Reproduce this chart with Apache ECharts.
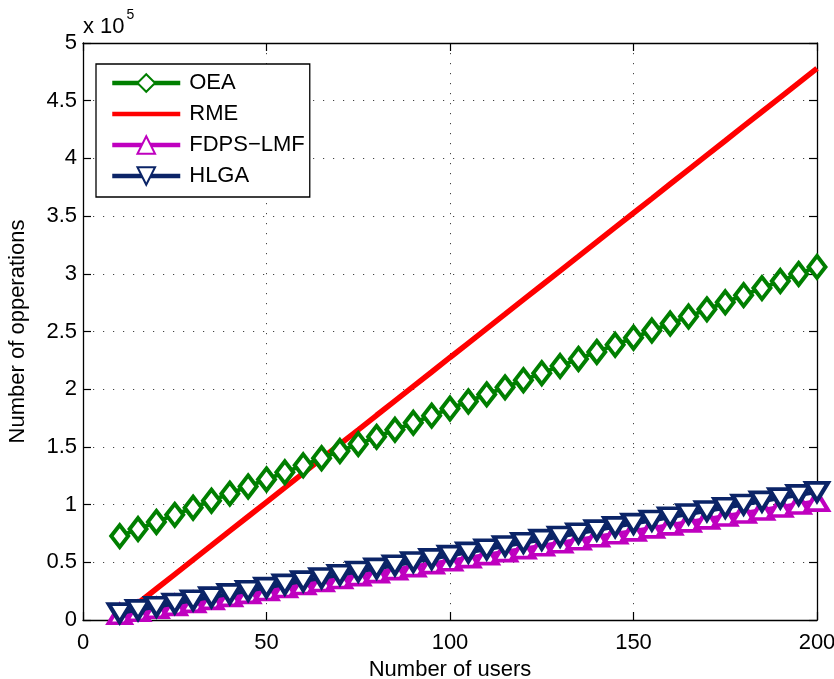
<!DOCTYPE html>
<html>
<head>
<meta charset="utf-8">
<script src="https://cdn.jsdelivr.net/npm/echarts@6/dist/echarts.min.js"></script>
<style>
  html, body { margin: 0; padding: 0; background: #fff; }
  #chart { width: 834px; height: 679px; }
</style>
</head>
<body>
<div id="chart"></div>
<script>
// number of users
var users = [10, 15, 20, 25, 30, 35, 40, 45, 50, 55, 60, 65, 70, 75, 80, 85, 90, 95, 100,
  105, 110, 115, 120, 125, 130, 135, 140, 145, 150, 155, 160, 165, 170, 175, 180, 185, 190, 195, 200];

var oea = [72700, 78800, 85000, 91100, 97300, 103400, 109500, 115700, 121800, 128000,
  134100, 140200, 146400, 152500, 158700, 164800, 170900, 177100, 183200, 189400,
  195500, 201600, 207800, 213900, 220100, 226200, 232300, 238500, 244600, 250800,
  256900, 263000, 269200, 275300, 281500, 287600, 293700, 299900, 306000];

var rme = [2000, 14500, 27100, 39600, 52100, 64600, 77200, 89700, 102200, 114700,
  127300, 139800, 152300, 164800, 177400, 189900, 202400, 214900, 227500, 240000,
  252500, 265000, 277600, 290100, 302600, 315100, 327700, 340200, 352700, 365200,
  377800, 390300, 402800, 415300, 427900, 440400, 452900, 465400, 478000];

var fdps = [5000, 7600, 10200, 12700, 15300, 17900, 20500, 23100, 25600, 28200,
  30800, 33400, 36000, 38500, 41100, 43700, 46300, 48900, 51400, 54000,
  56600, 59200, 61800, 64300, 66900, 69500, 72100, 74700, 77200, 79800,
  82400, 85000, 87600, 90100, 92700, 95300, 97900, 100500, 103000];

var hlga = [6000, 8800, 11500, 14300, 17100, 19800, 22600, 25400, 28100, 30900,
  33700, 36400, 39200, 42000, 44700, 47500, 50300, 53000, 55800, 58600,
  61300, 64100, 66900, 69600, 72400, 75200, 77900, 80700, 83500, 86200,
  89000, 91800, 94500, 97300, 100100, 102800, 105600, 108400, 111000];

var font = '"Liberation Sans", Arial, Helvetica, sans-serif';

function pairs(ys) {
  return users.map(function (x, i) { return [x, ys[i]]; });
}

var chart = echarts.init(document.getElementById('chart'));

var gridLine = { show: true, lineStyle: { color: '#444', width: 1, type: [1.2, 8.8] } };
var frame = { show: true, onZero: false, lineStyle: { color: '#000', width: 1.3 } };
var ticks = { show: true, inside: true, length: 8, lineStyle: { color: '#000', width: 1.2 } };

chart.setOption({
  backgroundColor: '#fff',
  animation: false,
  textStyle: { fontFamily: font },
  grid: { left: 83, right: 17, top: 43, bottom: 59, containLabel: false, outerBoundsMode: 'none' },
  legend: {
    orient: 'vertical',
    left: 96,
    top: 64,
    padding: [8, 5, 10, 14],
    itemWidth: 68,
    itemHeight: 22,
    itemGap: 9,
    backgroundColor: '#fff',
    borderColor: '#000',
    borderWidth: 1.3,
    borderRadius: 0,
    lineStyle: { width: 4.5 },
    textStyle: { fontFamily: font, fontSize: 22, lineHeight: 22, color: '#000', padding: [0, 0, 0, 4] },
    data: [
      { name: 'OEA' },
      { name: 'RME', itemStyle: { opacity: 0 } },
      { name: 'FDPS\u2212LMF' },
      { name: 'HLGA' }
    ]
  },
  graphic: [{
    type: 'text',
    left: 83,
    top: 8,
    style: {
      text: '{a|x 10}{b|5}',
      rich: {
        a: { fontFamily: font, fontSize: 22, fill: '#000', verticalAlign: 'bottom', lineHeight: 30 },
        b: { fontFamily: font, fontSize: 14, fill: '#000', verticalAlign: 'top', lineHeight: 30, padding: [0, 0, 18, 2] }
      }
    }
  }],
  xAxis: [{
    type: 'value',
    min: 0,
    max: 200,
    interval: 50,
    name: 'Number of users',
    nameLocation: 'middle',
    nameGap: 30,
    nameTextStyle: { fontFamily: font, fontSize: 22, color: '#000' },
    axisLine: frame,
    axisTick: ticks,
    axisLabel: { fontFamily: font, fontSize: 22, color: '#000', margin: 12 },
    splitLine: gridLine
  }, {
    type: 'value',
    position: 'top',
    min: 0,
    max: 200,
    interval: 50,
    axisLine: frame,
    axisTick: ticks,
    axisLabel: { show: false },
    splitLine: { show: false }
  }],
  yAxis: [{
    type: 'value',
    min: 0,
    max: 500000,
    interval: 50000,
    name: 'Number of opperations',
    nameLocation: 'middle',
    nameGap: 54,
    nameTextStyle: { fontFamily: font, fontSize: 22, color: '#000' },
    axisLine: frame,
    axisTick: ticks,
    axisLabel: {
      fontFamily: font, fontSize: 22, color: '#000', margin: 6,
      formatter: function (v) { return String(+(v / 100000).toFixed(1)); }
    },
    splitLine: gridLine
  }, {
    type: 'value',
    position: 'right',
    min: 0,
    max: 500000,
    interval: 50000,
    axisLine: frame,
    axisTick: ticks,
    axisLabel: { show: false },
    splitLine: { show: false }
  }],
  series: [{
    name: 'OEA',
    type: 'line',
    data: pairs(oea),
    symbol: 'diamond',
    symbolSize: [17, 22],
    lineStyle: { color: '#007f00', width: 4 },
    itemStyle: { color: '#fff', borderColor: '#007f00', borderWidth: 4 },
    z: 3
  }, {
    name: 'RME',
    type: 'line',
    data: pairs(rme),
    symbol: 'none',
    lineStyle: { color: '#ff0000', width: 5.5 },
    itemStyle: { color: '#ff0000' },
    z: 2
  }, {
    name: 'FDPS\u2212LMF',
    type: 'line',
    data: pairs(fdps),
    symbol: 'triangle',
    symbolSize: [22, 18],
    lineStyle: { color: '#bf00bf', width: 4 },
    itemStyle: { color: '#fff', borderColor: '#bf00bf', borderWidth: 4 },
    z: 4
  }, {
    name: 'HLGA',
    type: 'line',
    data: pairs(hlga),
    symbol: 'triangle',
    symbolRotate: 180,
    symbolSize: [22, 18],
    lineStyle: { color: '#0b2467', width: 4 },
    itemStyle: { color: '#fff', borderColor: '#0b2467', borderWidth: 4 },
    z: 5
  }]
});
</script>
</body>
</html>
